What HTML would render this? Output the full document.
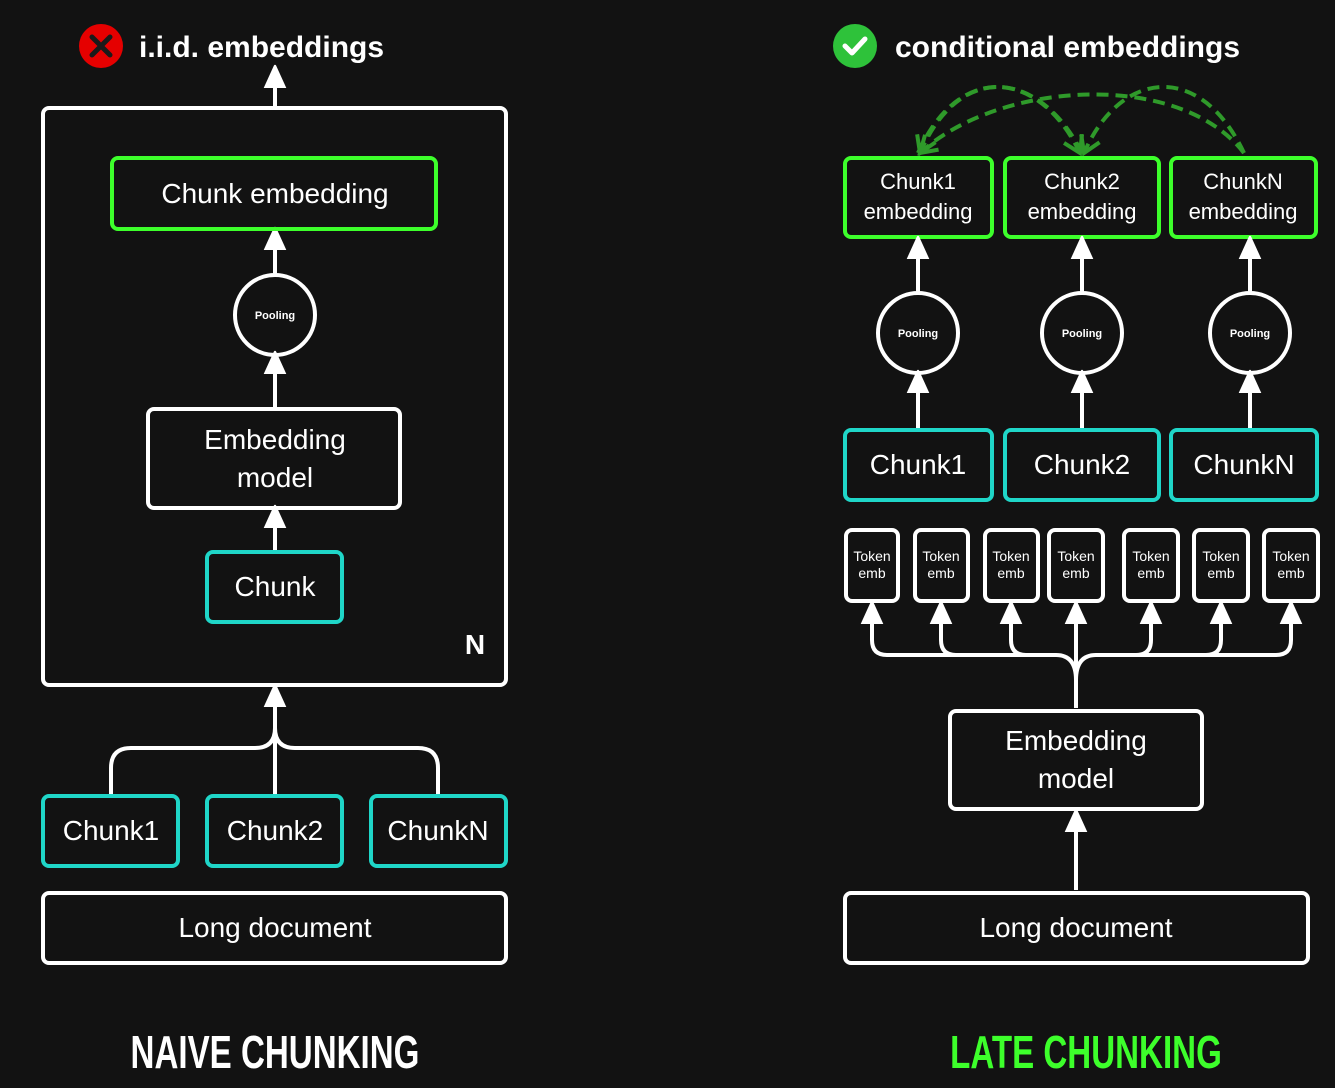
<!DOCTYPE html>
<html><head><meta charset="utf-8"><style>
html,body{margin:0;padding:0;background:#121212;}
svg{display:block}
text{font-family:"Liberation Sans",sans-serif;fill:#fff;}
</style></head><body>
<svg width="1335" height="1088" viewBox="0 0 1335 1088" xmlns="http://www.w3.org/2000/svg">
<defs>
<marker id="ah" markerWidth="6" markerHeight="6" refX="3" refY="3" orient="auto" markerUnits="strokeWidth" viewBox="0 0 6 6">
<path d="M0,0.5 L5.5,3 L0,5.5 Z" fill="#fff" stroke="#fff" stroke-width="0.6" stroke-linejoin="round"/>
</marker>
<marker id="gh" markerWidth="6" markerHeight="6" refX="4.5" refY="3" orient="auto" markerUnits="strokeWidth" viewBox="0 0 6 6">
<path d="M0.5,0.5 L4.5,3 L0.5,5.5" fill="none" stroke="#2f9a2a" stroke-width="1"/>
</marker>
</defs>
<rect width="1335" height="1088" fill="#121212"/>

<!-- LEFT -->
<circle cx="101" cy="46" r="22" fill="#e50000"/>
<path d="M92,37 L110,55 M110,37 L92,55" stroke="#1a1a1a" stroke-width="5" stroke-linecap="round"/>
<text x="139" y="57" font-size="30" font-weight="bold">i.i.d. embeddings</text>

<g fill="none" stroke="#fff" stroke-width="4">
<line x1="275" y1="106" x2="275" y2="76" marker-end="url(#ah)"/>
<rect x="43" y="108" width="463" height="577" rx="6"/>
<line x1="275" y1="275" x2="275" y2="238" marker-end="url(#ah)"/>
<circle cx="275" cy="315" r="40"/>
<line x1="275" y1="409" x2="275" y2="362" marker-end="url(#ah)"/>
<rect x="148" y="409" width="252" height="99" rx="6"/>
<line x1="275" y1="552" x2="275" y2="516" marker-end="url(#ah)"/>
<line x1="275" y1="795" x2="275" y2="695" marker-end="url(#ah)"/>
<path d="M111,795 L111,768 Q111,748 131,748 L255,748 Q275,748 275,728"/>
<path d="M438,795 L438,768 Q438,748 418,748 L295,748 Q275,748 275,728"/>
<rect x="43" y="893" width="463" height="70" rx="6"/>
</g>
<rect x="112" y="158" width="324" height="71" rx="6" fill="none" stroke="#3dff2b" stroke-width="4"/>
<g fill="none" stroke="#1fd6c8" stroke-width="4">
<rect x="207" y="552" width="135" height="70" rx="6"/>
<rect x="43" y="796" width="135" height="70" rx="6"/>
<rect x="207" y="796" width="135" height="70" rx="6"/>
<rect x="371" y="796" width="135" height="70" rx="6"/>
</g>
<g text-anchor="middle">
<text x="275" y="203" font-size="28">Chunk embedding</text>
<text x="275" y="319" font-size="11" font-weight="bold">Pooling</text>
<text x="275" y="449" font-size="28">Embedding</text>
<text x="275" y="487" font-size="28">model</text>
<text x="275" y="596" font-size="28">Chunk</text>
<text x="111" y="840" font-size="28">Chunk1</text>
<text x="275" y="840" font-size="28">Chunk2</text>
<text x="438" y="840" font-size="28">ChunkN</text>
<text x="275" y="937" font-size="28">Long document</text>
<text x="475" y="654" font-size="28" font-weight="bold">N</text>
<text x="275" y="1068" font-size="46" font-weight="bold" transform="translate(275 0) scale(0.72 1) translate(-275 0)">NAIVE CHUNKING</text>
</g>

<!-- RIGHT -->
<circle cx="855" cy="46" r="22" fill="#2ec23a"/>
<path d="M845,46 L852,53 L865,39" stroke="#fff" stroke-width="5" fill="none" stroke-linecap="round" stroke-linejoin="round"/>
<text x="895" y="57" font-size="30" font-weight="bold">conditional embeddings</text>

<g fill="none" stroke="#2f9a2a" stroke-width="4" stroke-dasharray="12 7">
<path d="M1082,153 C1040,70 960,60 920,153" marker-end="url(#gh)"/>
<path d="M918,153 C960,60 1040,70 1080,153" marker-end="url(#gh)"/>
<path d="M1244,153 C1200,60 1120,70 1084,153" marker-end="url(#gh)"/>
<path d="M1244,153 C1180,70 1000,80 920,153" marker-end="url(#gh)"/>
</g>

<g fill="none" stroke="#3dff2b" stroke-width="4">
<rect x="845" y="158" width="147" height="79" rx="6"/>
<rect x="1005" y="158" width="154" height="79" rx="6"/>
<rect x="1171" y="158" width="145" height="79" rx="6"/>
</g>
<g fill="none" stroke="#fff" stroke-width="4">
<line x1="918" y1="293" x2="918" y2="247" marker-end="url(#ah)"/>
<line x1="1082" y1="293" x2="1082" y2="247" marker-end="url(#ah)"/>
<line x1="1250" y1="293" x2="1250" y2="247" marker-end="url(#ah)"/>
<circle cx="918" cy="333" r="40"/>
<circle cx="1082" cy="333" r="40"/>
<circle cx="1250" cy="333" r="40"/>
<line x1="918" y1="430" x2="918" y2="381" marker-end="url(#ah)"/>
<line x1="1082" y1="430" x2="1082" y2="381" marker-end="url(#ah)"/>
<line x1="1250" y1="430" x2="1250" y2="381" marker-end="url(#ah)"/>
<rect x="846" y="530" width="52" height="71" rx="6"/>
<rect x="915" y="530" width="53" height="71" rx="6"/>
<rect x="985" y="530" width="53" height="71" rx="6"/>
<rect x="1049" y="530" width="54" height="71" rx="6"/>
<rect x="1124" y="530" width="54" height="71" rx="6"/>
<rect x="1194" y="530" width="54" height="71" rx="6"/>
<rect x="1264" y="530" width="54" height="71" rx="6"/>
<line x1="1076" y1="708" x2="1076" y2="612" marker-end="url(#ah)"/>
<path d="M872,612 L872,640 Q872,655 887,655 L1056,655 Q1076,655 1076,680"/>
<path d="M1291,612 L1291,640 Q1291,655 1276,655 L1096,655 Q1076,655 1076,680"/>
<path d="M941,612 L941,640 Q941,655 956,655"/>
<path d="M1011,612 L1011,640 Q1011,655 1026,655"/>
<path d="M1151,612 L1151,640 Q1151,655 1136,655"/>
<path d="M1221,612 L1221,640 Q1221,655 1206,655"/>
<line x1="872" y1="618" x2="872" y2="612" marker-end="url(#ah)"/>
<line x1="941" y1="618" x2="941" y2="612" marker-end="url(#ah)"/>
<line x1="1011" y1="618" x2="1011" y2="612" marker-end="url(#ah)"/>
<line x1="1151" y1="618" x2="1151" y2="612" marker-end="url(#ah)"/>
<line x1="1221" y1="618" x2="1221" y2="612" marker-end="url(#ah)"/>
<line x1="1291" y1="618" x2="1291" y2="612" marker-end="url(#ah)"/>
<rect x="950" y="711" width="252" height="98" rx="6"/>
<line x1="1076" y1="890" x2="1076" y2="820" marker-end="url(#ah)"/>
<rect x="845" y="893" width="463" height="70" rx="6"/>
</g>
<g fill="none" stroke="#1fd6c8" stroke-width="4">
<rect x="845" y="430" width="147" height="70" rx="6"/>
<rect x="1005" y="430" width="154" height="70" rx="6"/>
<rect x="1171" y="430" width="146" height="70" rx="6"/>
</g>
<g text-anchor="middle">
<text x="918" y="189" font-size="22">Chunk1</text><text x="918" y="219" font-size="22">embedding</text>
<text x="1082" y="189" font-size="22">Chunk2</text><text x="1082" y="219" font-size="22">embedding</text>
<text x="1243" y="189" font-size="22">ChunkN</text><text x="1243" y="219" font-size="22">embedding</text>
<text x="918" y="337" font-size="11" font-weight="bold">Pooling</text>
<text x="1082" y="337" font-size="11" font-weight="bold">Pooling</text>
<text x="1250" y="337" font-size="11" font-weight="bold">Pooling</text>
<text x="918" y="474" font-size="28">Chunk1</text>
<text x="1082" y="474" font-size="28">Chunk2</text>
<text x="1244" y="474" font-size="28">ChunkN</text>
<g font-size="14">
<text x="872" y="561">Token</text><text x="872" y="578">emb</text>
<text x="941" y="561">Token</text><text x="941" y="578">emb</text>
<text x="1011" y="561">Token</text><text x="1011" y="578">emb</text>
<text x="1076" y="561">Token</text><text x="1076" y="578">emb</text>
<text x="1151" y="561">Token</text><text x="1151" y="578">emb</text>
<text x="1221" y="561">Token</text><text x="1221" y="578">emb</text>
<text x="1291" y="561">Token</text><text x="1291" y="578">emb</text>
</g>
<text x="1076" y="750" font-size="28">Embedding</text>
<text x="1076" y="788" font-size="28">model</text>
<text x="1076" y="937" font-size="28">Long document</text>
<text x="1086" y="1068" font-size="46" font-weight="bold" fill="#3dff2b" style="fill:#3dff2b" transform="translate(1086 0) scale(0.72 1) translate(-1086 0)">LATE CHUNKING</text>
</g>
</svg>
</body></html>
